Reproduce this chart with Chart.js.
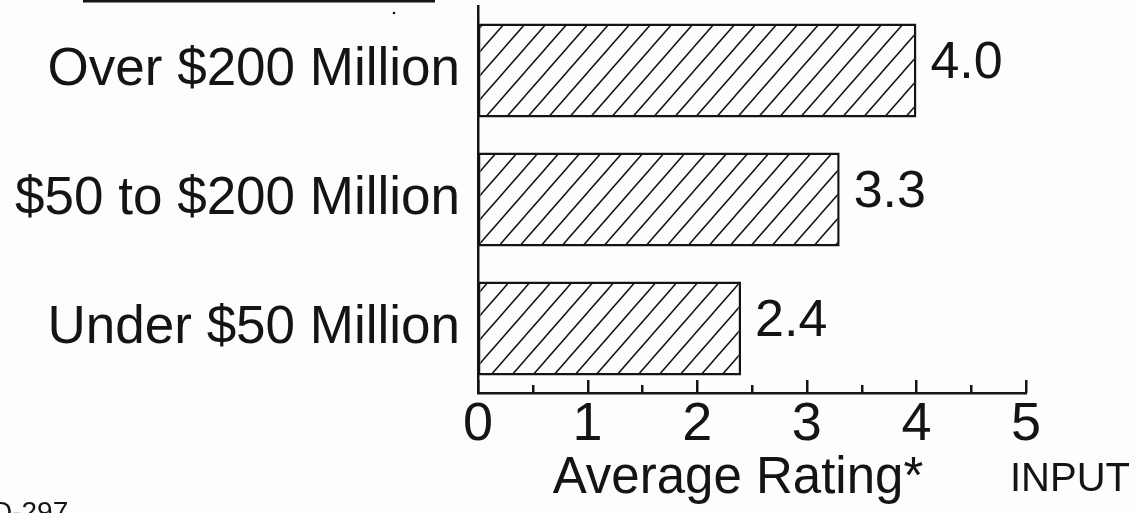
<!DOCTYPE html>
<html>
<head>
<meta charset="utf-8">
<script src="https://cdn.jsdelivr.net/npm/chart.js@4.4.1/dist/chart.umd.min.js"></script>
<style>
  html, body { margin: 0; padding: 0; background: #fdfdfd; }
  #wrap { width: 1138px; height: 513px; position: relative; }
</style>
</head>
<body>
<div id="wrap"><canvas id="c" width="1138" height="513"></canvas></div>
<script>
// Revenue classes and their average ratings
const categories = ['Over $200 Million', '$50 to $200 Million', 'Under $50 Million'];
const ratings = [4.0, 3.3, 2.4];
const ratingLabels = ['4.0', '3.3', '2.4'];
const axisMin = 0;
const axisMax = 5;
const axisTitle = 'Average Rating*';
const sourceTag = 'INPUT';
const figureId = 'D-297';

const INK = '#141414';
const FONT = '"Liberation Sans", Arial, Helvetica, sans-serif';

// diagonal "/" hatching used as the bar fill
function hatchPattern() {
  const w = 21, h = 24;
  const t = document.createElement('canvas');
  t.width = w; t.height = h;
  const g = t.getContext('2d');
  g.fillStyle = '#fdfdfd';
  g.fillRect(0, 0, w, h);
  g.strokeStyle = INK;
  g.lineWidth = 1.5;
  g.beginPath();
  g.moveTo(-w, 2 * h); g.lineTo(2 * w, -h);
  g.moveTo(-2 * w, 2 * h); g.lineTo(w, -h);
  g.moveTo(0, 2 * h); g.lineTo(3 * w, -h);
  g.stroke();
  return g.createPattern(t, 'repeat');
}

// inward ticks on the x axis, value labels and the loose page text
const decorations = {
  id: 'decorations',
  afterDatasetsDraw(chart) {
    const ctx = chart.ctx;
    const xs = chart.scales.x;
    const area = chart.chartArea;
    ctx.save();
    ctx.strokeStyle = INK;
    ctx.lineWidth = 2.5;
    ctx.lineCap = 'butt';
    for (let i = 0; i <= (axisMax - axisMin) * 2; i++) {
      const v = axisMin + i * 0.5;
      const x = Math.round(xs.getPixelForValue(v)) + 0.25;
      const len = (i % 2 === 0) ? 13 : 8;
      ctx.beginPath();
      ctx.moveTo(x, area.bottom);
      ctx.lineTo(x, area.bottom - len);
      ctx.stroke();
    }

    // value labels at the bar ends
    const meta = chart.getDatasetMeta(0);
    ctx.fillStyle = INK;
    ctx.font = '52px ' + FONT;
    ctx.textAlign = 'left';
    ctx.textBaseline = 'alphabetic';
    meta.data.forEach((bar, i) => {
      ctx.fillText(ratingLabels[i], bar.x + 14, bar.y + 7);
    });

    // axis title
    ctx.font = '51px ' + FONT;
    ctx.textAlign = 'center';
    ctx.fillText(axisTitle, 738, 493);

    // source tag and figure id
    ctx.font = '40px ' + FONT;
    ctx.textAlign = 'left';
    ctx.fillText(sourceTag, 1010, 491);
    ctx.font = '28px ' + FONT;
    ctx.fillText(figureId, -8, 521);

    // header rule and stray dot
    ctx.lineWidth = 3;
    ctx.beginPath();
    ctx.moveTo(83, 1);
    ctx.lineTo(435, 1);
    ctx.stroke();
    ctx.beginPath();
    ctx.arc(394, 13, 1.3, 0, Math.PI * 2);
    ctx.fill();
    ctx.restore();
  }
};

new Chart(document.getElementById('c'), {
  type: 'bar',
  data: {
    labels: categories,
    datasets: [{
      data: ratings,
      backgroundColor: hatchPattern(),
      borderColor: INK,
      borderWidth: 2.5,
      borderSkipped: false,
      barPercentage: 0.73,
      categoryPercentage: 1.0
    }]
  },
  options: {
    indexAxis: 'y',
    responsive: false,
    animation: false,
    devicePixelRatio: 1,
    layout: { padding: { top: 6, right: 112, left: 0, bottom: 0 } },
    plugins: { legend: { display: false }, tooltip: { enabled: false } },
    scales: {
      x: {
        min: axisMin,
        max: axisMax,
        afterFit(scale) {
          scale.height = 120;
          scale.paddingLeft = 0; scale.paddingRight = 0;
          scale.paddingTop = 0; scale.paddingBottom = 0;
        },
        ticks: {
          stepSize: 1,
          color: INK,
          padding: 0,
          font: { family: FONT, size: 54 },
          maxRotation: 0
        },
        grid: { display: false, drawTicks: false },
        border: { display: true, color: INK, width: 2.5 }
      },
      y: {
        afterFit(scale) {
          scale.width = 478;
          scale.paddingLeft = 0; scale.paddingRight = 0;
          scale.paddingTop = 0; scale.paddingBottom = 0;
        },
        ticks: {
          color: INK,
          padding: 18,
          font: { family: FONT, size: 53 }
        },
        grid: { display: false, drawTicks: false },
        border: { display: true, color: INK, width: 2.5 }
      }
    }
  },
  plugins: [decorations]
});
</script>
</body>
</html>
